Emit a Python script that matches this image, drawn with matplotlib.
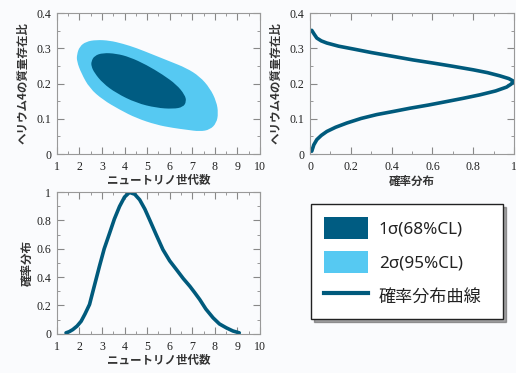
import numpy as np
import matplotlib
matplotlib.use('Agg')
import matplotlib.pyplot as plt
from matplotlib.patches import Patch, PathPatch
from matplotlib.path import Path
from matplotlib.lines import Line2D
from matplotlib.ticker import MultipleLocator

# 2D allowed region boundaries (neutrino generations, He4 mass fraction)
outer_x = [1.89, 2.01, 2.30, 2.75, 3.34, 3.93, 4.52, 5.26, 6.00, 6.74, 7.33, 7.78, 8.07, 8.15, 8.07, 7.78, 7.33, 6.74, 6.15, 5.41, 4.52, 3.78, 3.04, 2.45, 2.08, 1.89]
outer_y = [0.282, 0.305, 0.319, 0.324, 0.322, 0.313, 0.301, 0.282, 0.263, 0.244, 0.220, 0.187, 0.149, 0.116, 0.088, 0.069, 0.064, 0.069, 0.074, 0.083, 0.102, 0.126, 0.154, 0.187, 0.230, 0.263]
inner_x = [2.53, 2.67, 3.04, 3.63, 4.23, 4.97, 5.70, 6.30, 6.67, 6.74, 6.59, 6.15, 5.41, 4.52, 3.63, 3.04, 2.67, 2.53]
inner_y = [0.263, 0.279, 0.287, 0.285, 0.275, 0.253, 0.225, 0.197, 0.168, 0.149, 0.133, 0.128, 0.131, 0.145, 0.173, 0.201, 0.230, 0.249]

# marginal distribution of He4 fraction
he_prob = [0.008, 0.020, 0.033, 0.055, 0.082, 0.140, 0.212, 0.300, 0.408, 0.505, 0.605, 0.700, 0.800, 0.870, 0.930, 0.975, 1.000, 0.985, 0.964, 0.910, 0.833, 0.750, 0.670, 0.580, 0.490, 0.410, 0.327, 0.250, 0.180, 0.125, 0.082, 0.055, 0.033, 0.018, 0.008]
he_y = [0.351, 0.340, 0.329, 0.321, 0.315, 0.306, 0.298, 0.288, 0.277, 0.267, 0.258, 0.249, 0.239, 0.231, 0.222, 0.214, 0.206, 0.198, 0.190, 0.179, 0.168, 0.158, 0.149, 0.139, 0.130, 0.121, 0.112, 0.101, 0.088, 0.076, 0.064, 0.053, 0.041, 0.026, 0.008]

# marginal distribution of neutrino generations
nu_x = [1.41, 1.55, 1.71, 1.90, 2.08, 2.25, 2.45, 2.65, 2.89, 3.10, 3.34, 3.55, 3.78, 4.00, 4.22, 4.45, 4.67, 4.90, 5.11, 5.40, 5.70, 6.00, 6.30, 6.60, 6.89, 7.10, 7.33, 7.60, 7.92, 8.20, 8.51, 8.80, 9.08]
nu_p = [0.007, 0.015, 0.030, 0.055, 0.089, 0.140, 0.207, 0.330, 0.477, 0.600, 0.711, 0.810, 0.899, 0.965, 0.998, 0.985, 0.946, 0.880, 0.805, 0.700, 0.594, 0.515, 0.453, 0.390, 0.336, 0.292, 0.242, 0.175, 0.113, 0.070, 0.042, 0.020, 0.007]

labels = ['1σ(68%CL)', '2σ(95%CL)', '確率分布曲線']

dark = '#005c82'
light = '#56c9f2'
linec = '#005a7c'
bg = '#fafbfd'

jp = ['Noto Sans CJK JP', 'DejaVu Sans']
plt.rcParams['font.family'] = 'Liberation Serif'


def smooth_region(xs, ys, color):
    # closed quadratic spline, the read points act as control points
    pts = np.column_stack([xs, ys])
    n = len(pts)
    mids = (pts + np.roll(pts, -1, axis=0)) / 2
    verts = [mids[-1]]
    codes = [Path.MOVETO]
    for i in range(n):
        verts += [pts[i], mids[i]]
        codes += [Path.CURVE3, Path.CURVE3]
    verts.append(mids[-1])
    codes.append(Path.CLOSEPOLY)
    return PathPatch(Path(verts, codes), facecolor=color, edgecolor='none')


fig = plt.figure(figsize=(5.16, 3.73), dpi=100, facecolor=bg)
ax1 = fig.add_axes([0.110, 0.587, 0.394, 0.378])
ax2 = fig.add_axes([0.601, 0.587, 0.395, 0.378])
ax3 = fig.add_axes([0.110, 0.105, 0.394, 0.380])


def style(ax, xmaj, xmin, ymaj, ymin):
    ax.set_facecolor(bg)
    ax.xaxis.set_major_locator(MultipleLocator(xmaj))
    ax.xaxis.set_minor_locator(MultipleLocator(xmin))
    ax.yaxis.set_major_locator(MultipleLocator(ymaj))
    ax.yaxis.set_minor_locator(MultipleLocator(ymin))
    ax.tick_params(which='both', direction='in', top=True, right=True,
                   color='#888888', labelsize=8.6, labelcolor='#222222')
    ax.tick_params(axis='x', pad=5)
    ax.tick_params(axis='y', pad=4)
    ax.tick_params(which='major', length=5)
    ax.tick_params(which='minor', length=2.5)
    for s in ax.spines.values():
        s.set_color('#999999')
        s.set_linewidth(0.8)


lab_kw = dict(family=jp, fontsize=8.3, fontweight='bold', color='#333333')

# top-left: contours
ax1.add_patch(smooth_region(outer_x, outer_y, light))
ax1.add_patch(smooth_region(inner_x, inner_y, dark))
ax1.set_xlim(1, 10)
ax1.set_ylim(0, 0.4)
style(ax1, 1, 0.5, 0.1, 0.05)
ax1.set_xlabel('ニュートリノ世代数', labelpad=1, **lab_kw)
ax1.set_ylabel('ヘリウム4の質量存在比', labelpad=5, **lab_kw)

# top-right: He4 distribution
ax2.plot(he_prob, he_y, color=linec, lw=2.6, solid_capstyle='round')
ax2.set_xlim(0, 1)
ax2.set_ylim(0, 0.4)
style(ax2, 0.2, 0.1, 0.1, 0.05)
ax2.set_xlabel('確率分布', labelpad=1, **lab_kw)
ax2.set_ylabel('ヘリウム4の質量存在比', labelpad=5, **lab_kw)

# bottom-left: neutrino distribution
ax3.plot(nu_x, nu_p, color=linec, lw=2.6, solid_capstyle='round')
ax3.set_xlim(1, 10)
ax3.set_ylim(0, 1)
style(ax3, 1, 0.5, 0.2, 0.1)
ax3.set_xlabel('ニュートリノ世代数', labelpad=1, **lab_kw)
ax3.set_ylabel('確率分布', labelpad=2, **lab_kw)

for ax in (ax1, ax2, ax3):
    xl, yl = ax.get_xlim(), ax.get_ylim()
    xt = [v for v in ax.get_xticks() if xl[0] - 1e-9 <= v <= xl[1] + 1e-9]
    yt = [v for v in ax.get_yticks() if yl[0] - 1e-9 <= v <= yl[1] + 1e-9]
    ax.set_xticks(xt)
    ax.set_yticks(yt)
    ax.set_xticklabels(['%g' % v for v in xt])
    ax.set_yticklabels(['%g' % v for v in yt])
    ax.set_xlim(xl)
    ax.set_ylim(yl)

handles = [Patch(facecolor=dark, edgecolor='none'),
           Patch(facecolor=light, edgecolor='none'),
           Line2D([], [], color=linec, lw=3)]
leg = fig.legend(handles, labels, loc='upper left', mode='expand',
                 bbox_to_anchor=(0.603, 0.134, 0.372, 0.319),
                 prop={'family': ['Noto Sans', 'DejaVu Sans'], 'size': 12.3},
                 frameon=True, fancybox=False, shadow=True, edgecolor='#222222',
                 facecolor='white', framealpha=1, handlelength=2.57, handleheight=1.58,
                 handletextpad=0.64, labelspacing=0.72, borderpad=0.75, borderaxespad=0)
leg.get_frame().set_linewidth(1.0)
for t in leg.get_texts():
    t.set_color('#222222')
for t in leg.get_texts()[2:]:
    t.set_family(jp)

fig.savefig('out.png', dpi=100, facecolor=bg)
